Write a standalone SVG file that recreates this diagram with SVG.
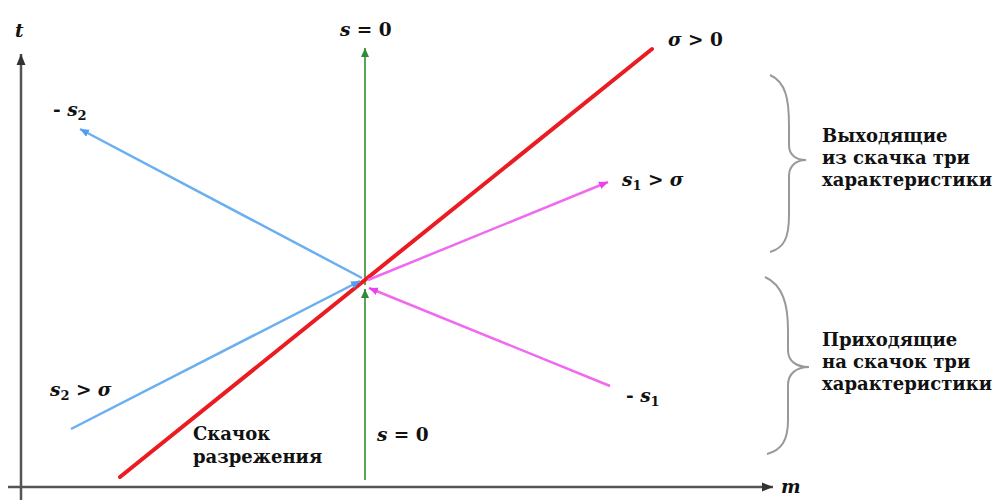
<svg xmlns="http://www.w3.org/2000/svg" width="998" height="500" viewBox="0 0 998 500">
<style>
text{font-family:"DejaVu Serif","Liberation Serif",serif;font-weight:bold;fill:#111}
.lbl{font-size:18px}
.m{font-size:18.5px}
.it{font-style:italic}
.axis{stroke:#555;stroke-width:2.5;fill:none}
.brace{stroke:#999;stroke-width:2;fill:none}
</style>
<defs>
<marker id="ah-axis" markerUnits="userSpaceOnUse" markerWidth="12" markerHeight="10" refX="11" refY="5" orient="auto"><path d="M0,0.5 L11,5 L0,9.5 Z" fill="#333"/></marker>
<marker id="ah-green" markerUnits="userSpaceOnUse" markerWidth="10" markerHeight="10" refX="9" refY="5" orient="auto"><path d="M0,1 L9,5 L0,9 Z" fill="#2e8b3a"/></marker>
<marker id="ah-blue" markerUnits="userSpaceOnUse" markerWidth="10" markerHeight="10" refX="9" refY="5" orient="auto"><path d="M0,1 L9,5 L0,9 Z" fill="#4f9ff0"/></marker>
<marker id="ah-mag" markerUnits="userSpaceOnUse" markerWidth="10" markerHeight="10" refX="9" refY="5" orient="auto"><path d="M0,1 L9,5 L0,9 Z" fill="#ee3fee"/></marker>
</defs>
<rect width="998" height="500" fill="#fff"/>
<g id="axes">
<line class="axis" x1="21" y1="500" x2="21" y2="54" marker-end="url(#ah-axis)"/>
<line class="axis" x1="8" y1="487" x2="773" y2="487" marker-end="url(#ah-axis)"/>
<text class="m it" x="15" y="37">t</text>
<text class="m it" x="781" y="493">m</text>
</g>
<g id="connectors">
<line x1="365" y1="480" x2="365" y2="289" stroke="#5aa55a" stroke-width="2" marker-end="url(#ah-green)"/>
<line x1="365" y1="285" x2="365" y2="48" stroke="#5aa55a" stroke-width="2" marker-end="url(#ah-green)"/>
<line x1="120" y1="477" x2="652" y2="49" stroke="#ea1c22" stroke-width="4" stroke-linecap="round"/>
<line x1="71" y1="429" x2="360" y2="281" stroke="#6aaff0" stroke-width="2.5" marker-end="url(#ah-blue)"/>
<line x1="362" y1="278" x2="80" y2="129" stroke="#6aaff0" stroke-width="2.5" marker-end="url(#ah-blue)"/>
<line x1="610" y1="386" x2="369" y2="288" stroke="#f06af0" stroke-width="2.5" marker-end="url(#ah-mag)"/>
<line x1="368" y1="280" x2="608" y2="182" stroke="#f06af0" stroke-width="2.5" marker-end="url(#ah-mag)"/>
</g>
<g id="labels">
<text class="m" x="340" y="36"><tspan class="it">s</tspan> = 0</text>
<text class="m" x="377" y="441"><tspan class="it">s</tspan> = 0</text>
<text class="m" x="668" y="46"><tspan class="it">σ</tspan> &gt; 0</text>
<text class="m" x="622" y="186"><tspan class="it">s</tspan><tspan font-size="13" dy="4">1</tspan><tspan dy="-4"> &gt; </tspan><tspan class="it">σ</tspan></text>
<text class="m" x="626" y="402">- <tspan class="it">s</tspan><tspan font-size="13" dy="4">1</tspan></text>
<text class="m" x="50" y="396"><tspan class="it">s</tspan><tspan font-size="13" dy="4">2</tspan><tspan dy="-4"> &gt; </tspan><tspan class="it">σ</tspan></text>
<text class="m" x="53" y="116">- <tspan class="it">s</tspan><tspan font-size="13" dy="4">2</tspan></text>
<text class="lbl" x="193" y="440">Скачок</text>
<text class="lbl" x="193" y="463">разрежения</text>
</g>
<g id="brace-out">
<path class="brace" d="M770,75 C786,82 789,100 789,125 L789,145 C789,155 796,160 806,160 C796,160 789,166 789,176 L789,215 C789,238 784,248 770,252"/>
<text class="lbl" x="822" y="142">Выходящие</text>
<text class="lbl" x="822" y="164">из скачка три</text>
<text class="lbl" x="822" y="186">характеристики</text>
</g>
<g id="brace-in">
<path class="brace" d="M765,277 C783,285 788,305 788,330 L788,350 C788,361 796,367 809,367 C796,367 788,374 788,385 L788,420 C788,440 782,450 767,454"/>
<text class="lbl" x="822" y="346">Приходящие</text>
<text class="lbl" x="822" y="368">на скачок три</text>
<text class="lbl" x="822" y="390">характеристики</text>
</g>
</svg>
